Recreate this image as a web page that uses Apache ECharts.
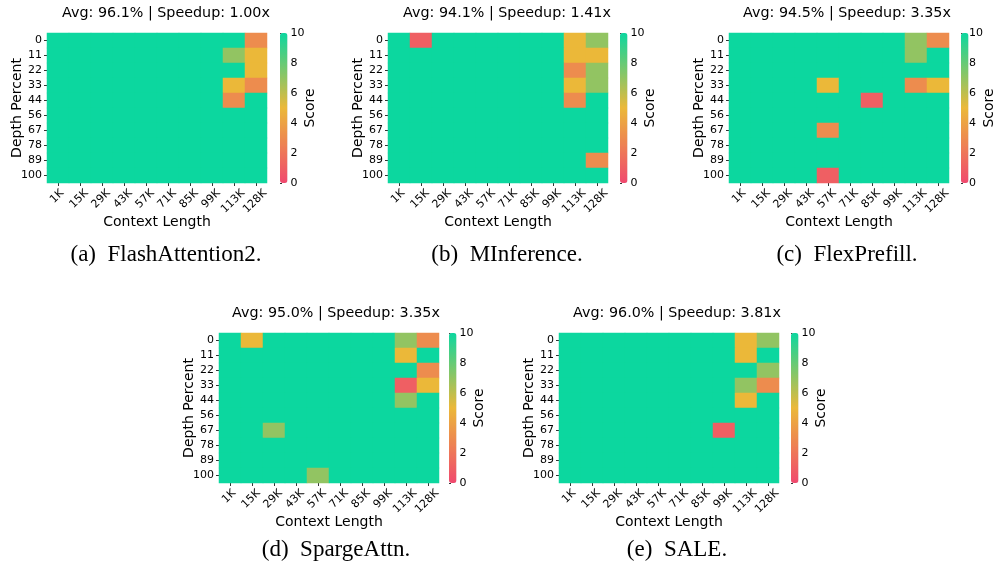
<!DOCTYPE html>
<html>
<head>
<meta charset="utf-8">
<script src="https://cdn.jsdelivr.net/npm/echarts@6/dist/echarts.min.js"></script>
<style>
html,body{margin:0;padding:0;background:#fff;}
#chart{width:997px;height:571px;}
</style>
</head>
<body>
<div id="chart"></div>
<script>
// ---- data ----
const contextLengths = ['1K','15K','29K','43K','57K','71K','85K','99K','113K','128K'];
const depthPercents = ['0','11','22','33','44','56','67','78','89','100'];

const flashAttention2 = [
  [10,10,10,10,10,10,10,10,10,3],
  [10,10,10,10,10,10,10,10,7,5],
  [10,10,10,10,10,10,10,10,10,5],
  [10,10,10,10,10,10,10,10,5,3],
  [10,10,10,10,10,10,10,10,3,10],
  [10,10,10,10,10,10,10,10,10,10],
  [10,10,10,10,10,10,10,10,10,10],
  [10,10,10,10,10,10,10,10,10,10],
  [10,10,10,10,10,10,10,10,10,10],
  [10,10,10,10,10,10,10,10,10,10]
];
const mInference = [
  [10,1,10,10,10,10,10,10,5,7],
  [10,10,10,10,10,10,10,10,5,5],
  [10,10,10,10,10,10,10,10,3,7],
  [10,10,10,10,10,10,10,10,5,7],
  [10,10,10,10,10,10,10,10,3,10],
  [10,10,10,10,10,10,10,10,10,10],
  [10,10,10,10,10,10,10,10,10,10],
  [10,10,10,10,10,10,10,10,10,10],
  [10,10,10,10,10,10,10,10,10,3],
  [10,10,10,10,10,10,10,10,10,10]
];
const flexPrefill = [
  [10,10,10,10,10,10,10,10,7,3],
  [10,10,10,10,10,10,10,10,7,10],
  [10,10,10,10,10,10,10,10,10,10],
  [10,10,10,10,5,10,10,10,3,5],
  [10,10,10,10,10,10,1,10,10,10],
  [10,10,10,10,10,10,10,10,10,10],
  [10,10,10,10,3,10,10,10,10,10],
  [10,10,10,10,10,10,10,10,10,10],
  [10,10,10,10,10,10,10,10,10,10],
  [10,10,10,10,1,10,10,10,10,10]
];
const spargeAttn = [
  [10,5,10,10,10,10,10,10,7,3],
  [10,10,10,10,10,10,10,10,5,10],
  [10,10,10,10,10,10,10,10,10,3],
  [10,10,10,10,10,10,10,10,1,5],
  [10,10,10,10,10,10,10,10,7,10],
  [10,10,10,10,10,10,10,10,10,10],
  [10,10,7,10,10,10,10,10,10,10],
  [10,10,10,10,10,10,10,10,10,10],
  [10,10,10,10,10,10,10,10,10,10],
  [10,10,10,10,7,10,10,10,10,10]
];
const sale = [
  [10,10,10,10,10,10,10,10,5,7],
  [10,10,10,10,10,10,10,10,5,10],
  [10,10,10,10,10,10,10,10,10,7],
  [10,10,10,10,10,10,10,10,7,3],
  [10,10,10,10,10,10,10,10,5,10],
  [10,10,10,10,10,10,10,10,10,10],
  [10,10,10,10,10,10,10,1,10,10],
  [10,10,10,10,10,10,10,10,10,10],
  [10,10,10,10,10,10,10,10,10,10],
  [10,10,10,10,10,10,10,10,10,10]
];
const panelTitles = [
  'Avg: 96.1% | Speedup: 1.00x',
  'Avg: 94.1% | Speedup: 1.41x',
  'Avg: 94.5% | Speedup: 3.35x',
  'Avg: 95.0% | Speedup: 3.35x',
  'Avg: 96.0% | Speedup: 3.81x'
];
const panelCaptions = [
  '(a)\u2002FlashAttention2.',
  '(b)\u2002MInference.',
  '(c)\u2002FlexPrefill.',
  '(d)\u2002SpargeAttn.',
  '(e)\u2002SALE.'
];
const scoreMin = 0, scoreMax = 10, scoreStep = 2;

// ---- layout / style ----
const panels = [flashAttention2, mInference, flexPrefill, spargeAttn, sale];
const layout = [
  {gx:47,  gy:33,  cb:280, cx:166, ty:13,  capy:255},
  {gx:388, gy:33,  cb:620, cx:507, ty:13,  capy:255},
  {gx:729, gy:33,  cb:961, cx:847, ty:13,  capy:255},
  {gx:219, gy:333, cb:449, cx:336, ty:313, capy:550},
  {gx:559, gy:333, cb:791, cx:677, ty:313, capy:550}
];
const GW = 220, GH = 150, CBW = 7.5;
const FONT = 'DejaVu Sans';
const TICK_FS = 11;
const cmap = ['#F0496E', '#EBB839', '#0CD79F'];

// rotated x tick labels hung centred under their ticks (matplotlib ha='center' style)
const mctx = document.createElement('canvas').getContext('2d');
mctx.font = TICK_FS + 'px "' + FONT + '"';
const LBL_PAD = 4.5, LBL_DX = -1;
function renderXLabel(params, api) {
  const c = api.value(0);
  const txt = contextLengths[c];
  const pt = api.coord([c, 0]);
  const bottom = params.coordSys.y + params.coordSys.height;
  const w = mctx.measureText(txt).width;
  const h = TICK_FS;
  return {
    type: 'text',
    x: pt[0] + LBL_DX,
    y: bottom + LBL_PAD + (w + h) / (2 * Math.SQRT2),
    rotation: Math.PI / 4,
    silent: true,
    style: {text: txt, fontFamily: FONT, fontSize: TICK_FS, fill: '#000',
            align: 'center', verticalAlign: 'middle'}
  };
}

const grid = [], xAxis = [], yAxis = [], series = [], visualMap = [], graphic = [];

panels.forEach((m, i) => {
  const L = layout[i];
  grid.push({left: L.gx, top: L.gy, width: GW, height: GH, containLabel: false});
  xAxis.push({
    type: 'category', gridIndex: i, data: contextLengths,
    name: 'Context Length', nameLocation: 'middle', nameGap: 32, nameMoveOverlap: false,
    nameTextStyle: {fontFamily: FONT, fontSize: 14, color: '#000'},
    axisLine: {show: false},
    axisTick: {show: true, alignWithLabel: true, length: 3, lineStyle: {color: '#000', width: 0.8}},
    axisLabel: {show: false, interval: 0},
    splitLine: {show: false}, splitArea: {show: false}
  });
  yAxis.push({
    type: 'category', gridIndex: i, data: depthPercents, inverse: true,
    name: 'Depth Percent', nameLocation: 'middle', nameGap: 23, nameRotate: 90, nameMoveOverlap: false,
    nameTextStyle: {fontFamily: FONT, fontSize: 14, color: '#000'},
    axisLine: {show: false},
    axisTick: {show: true, alignWithLabel: true, length: 3, lineStyle: {color: '#000', width: 0.8}},
    axisLabel: {margin: 5, fontFamily: FONT, fontSize: TICK_FS, color: '#000', interval: 0},
    splitLine: {show: false}, splitArea: {show: false}
  });
  const data = [];
  m.forEach((row, r) => row.forEach((v, c) => data.push([c, r, v])));
  series.push({
    type: 'heatmap', xAxisIndex: i, yAxisIndex: i, data: data,
    itemStyle: {borderWidth: 0},
    emphasis: {disabled: true}, silent: true, progressive: 0
  });
  visualMap.push({
    type: 'continuous', seriesIndex: i, min: scoreMin, max: scoreMax,
    orient: 'vertical', left: L.cb, top: L.gy, itemWidth: CBW, itemHeight: GH,
    calculable: false, realtime: false, hoverLink: false, padding: 0, text: null,
    inRange: {color: cmap}, textStyle: {color: '#000'}
  });
  graphic.push({
    type: 'text', x: L.cx, y: L.ty, silent: true,
    style: {text: panelTitles[i], fontFamily: FONT, fontSize: 14.3, fill: '#000',
            textAlign: 'center', textVerticalAlign: 'middle'}
  });
  graphic.push({
    type: 'text', x: L.cx, y: L.capy, silent: true,
    style: {text: panelCaptions[i], fontFamily: 'Liberation Serif', fontSize: 23, fill: '#000',
            textAlign: 'center', textVerticalAlign: 'middle'}
  });
});

// x tick labels (one custom series per panel, positioned by the category axis)
panels.forEach((m, i) => {
  series.push({
    type: 'custom', xAxisIndex: i, yAxisIndex: i, clip: false, silent: true,
    renderItem: renderXLabel,
    data: contextLengths.map((t, c) => [c]),
    z: 3
  });
});

// colorbar tick axes
panels.forEach((m, i) => {
  const L = layout[i];
  const gi = panels.length + i;
  grid.push({left: L.cb, top: L.gy, width: CBW, height: GH, containLabel: false});
  xAxis.push({type: 'value', gridIndex: gi, show: false, min: 0, max: 1});
  yAxis.push({
    type: 'value', gridIndex: gi, position: 'right', min: scoreMin, max: scoreMax, interval: scoreStep,
    name: 'Score', nameLocation: 'middle', nameGap: 16, nameRotate: 90, nameMoveOverlap: false,
    nameTextStyle: {fontFamily: FONT, fontSize: 14, color: '#000'},
    axisLine: {show: false},
    axisTick: {show: true, length: 2, lineStyle: {color: '#000', width: 0.8}},
    axisLabel: {margin: 3, fontFamily: FONT, fontSize: TICK_FS, color: '#000'},
    splitLine: {show: false}
  });
});

const chart = echarts.init(document.getElementById('chart'), null, {renderer: 'canvas'});
chart.setOption({
  animation: false,
  backgroundColor: '#fff',
  grid, xAxis, yAxis, series, visualMap, graphic
});
</script>
</body>
</html>
